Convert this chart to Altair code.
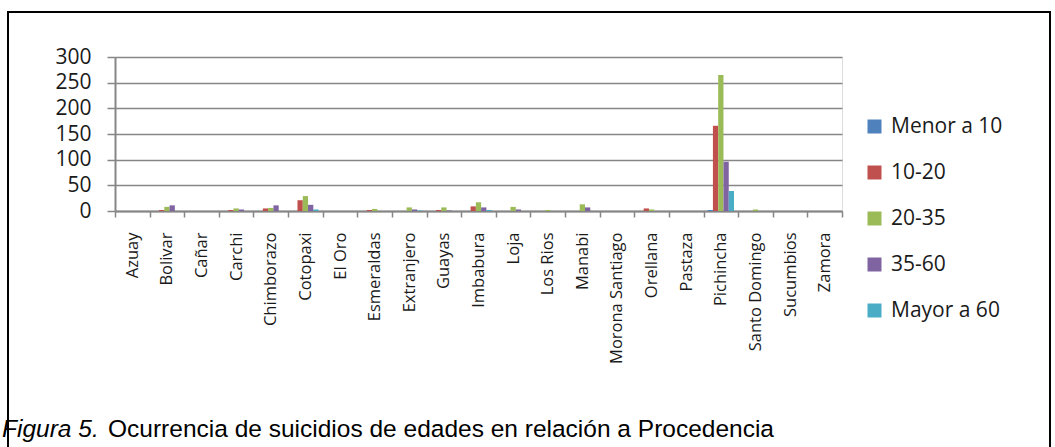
import altair as alt
import pandas as pd

provincias = ["Azuay", "Bolivar", "Cañar", "Carchi", "Chimborazo", "Cotopaxi", "El Oro",
              "Esmeraldas", "Extranjero", "Guayas", "Imbabura", "Loja", "Los Rios", "Manabi",
              "Morona Santiago", "Orellana", "Pastaza", "Pichincha", "Santo Domingo",
              "Sucumbios", "Zamora"]
series = ["Menor a 10", "10-20", "20-35", "35-60", "Mayor a 60"]
colores = ["#4F81BD", "#C0504D", "#9BBB59", "#8064A2", "#4BACC6"]

menor_10 = [0, 0, 0, 0, 0, 0, 0, 0, 0, 0, 0, 0, 0, 0, 0, 0, 0, 2, 0, 0, 0]
e_10_20 = [0, 2, 0, 2, 5, 21, 0, 2, 0, 2, 9, 0, 0, 0, 0, 5, 0, 166, 0, 0, 0]
e_20_35 = [0, 8, 0, 5, 6, 29, 0, 4, 7, 7, 17, 8, 2, 13, 0, 3, 0, 265, 3, 0, 0]
e_35_60 = [0, 11, 0, 3, 11, 12, 0, 0, 3, 1, 7, 3, 0, 7, 0, 0, 0, 96, 0, 0, 0]
mayor_60 = [0, 0, 0, 0, 0, 3, 0, 0, 1, 0, 2, 0, 0, 0, 0, 0, 0, 39, 0, 0, 0]

rows = []
for s, vals in zip(series, [menor_10, e_10_20, e_20_35, e_35_60, mayor_60]):
    for p, v in zip(provincias, vals):
        rows.append({"provincia": p, "edad": s, "casos": v})
df = pd.DataFrame(rows)

GRAY = "#868686"
TXT = "#1a1a1a"

bars = alt.Chart(df).mark_bar().encode(
    x=alt.X("provincia:N", sort=provincias, title=None,
            scale=alt.Scale(paddingInner=0, paddingOuter=0),
            axis=alt.Axis(labelAngle=-90, tickBand="extent", tickSize=6, tickColor=GRAY,
                          tickWidth=1.5, domainColor=GRAY, domainWidth=2,
                          labelFont="Open Sans", labelFontSize=16.5, labelColor=TXT,
                          labelPadding=15, grid=False)),
    xOffset=alt.XOffset("edad:N", sort=series,
                        scale=alt.Scale(paddingInner=0, paddingOuter=0.78)),
    y=alt.Y("casos:Q", title=None,
            scale=alt.Scale(domain=[0, 300], nice=False),
            axis=alt.Axis(values=[0, 50, 100, 150, 200, 250, 300], tickSize=8,
                          tickColor=GRAY, tickWidth=1.5, domainColor=GRAY, domainWidth=2,
                          gridColor=GRAY, gridWidth=1.5, labelFont="Open Sans",
                          labelFontSize=21, labelColor=TXT, labelPadding=16)),
    color=alt.Color("edad:N", sort=series,
                    scale=alt.Scale(domain=series, range=colores),
                    legend=alt.Legend(title=None, orient="none", legendX=749, legendY=59,
                                      symbolType="square", symbolSize=196,
                                      symbolStrokeWidth=0, labelFont="Open Sans",
                                      labelFontSize=21, labelColor=TXT, labelOffset=6,
                                      rowPadding=24, padding=0)),
)

one = pd.DataFrame({"a": [0]})

border = alt.Chart(one).mark_rect(fillOpacity=0, stroke="black", strokeWidth=2).encode(
    x=alt.value(-107), x2=alt.value(935), y=alt.value(-45), y2=alt.value(400)
)

cap1 = alt.Chart(one).mark_text(text="Figura 5.", font="Liberation Sans", fontSize=24.5,
                                fontStyle="italic", align="left", baseline="middle",
                                color="black").encode(
    x=alt.value(-113), y=alt.value(373)
)
cap2 = alt.Chart(one).mark_text(text="Ocurrencia de suicidios de edades en relación a Procedencia",
                                font="Liberation Sans", fontSize=24.5, align="left",
                                baseline="middle", color="black").encode(
    x=alt.value(-7), y=alt.value(373)
)

chart = alt.layer(border, bars, cap1, cap2).properties(
    width=727, height=154,
    autosize=alt.AutoSizeParams(type="none"),
    padding={"left": 115, "top": 57, "right": 213, "bottom": 236},
).configure_view(stroke=None).configure(background="white")

chart.save("out.html", embed_options={"renderer": "svg", "actions": False})
